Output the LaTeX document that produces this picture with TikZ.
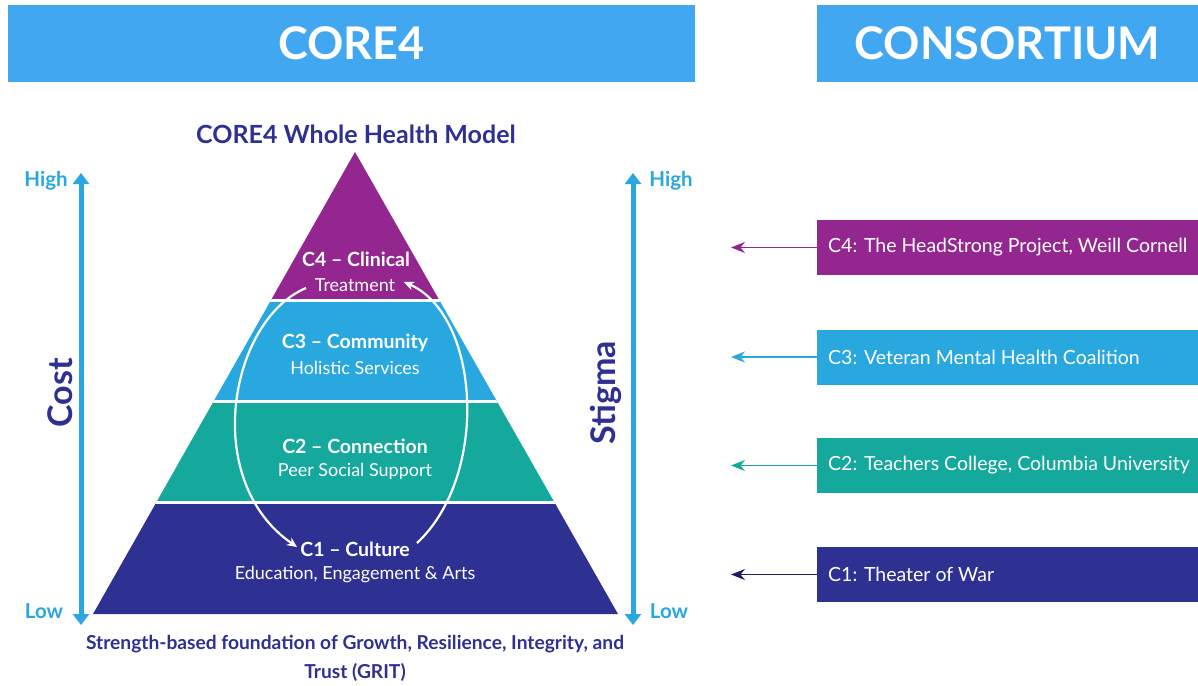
\documentclass[tikz,border=0pt]{standalone}
\usepackage{fontspec}
\setmainfont{Lato}
\usetikzlibrary{arrows.meta}
\definecolor{hdr}{HTML}{42A7F1}
\definecolor{cfour}{HTML}{93278F}
\definecolor{cthree}{HTML}{29A8E0}
\definecolor{ctwo}{HTML}{15A89C}
\definecolor{cone}{HTML}{2E3192}
\definecolor{navy}{HTML}{2E3192}
\definecolor{axisblue}{HTML}{2AA7E0}
\definecolor{conearrow}{HTML}{1F1F66}
\tikzset{
  header/.style={fill=hdr, inner sep=0pt, minimum height=77pt, text=white, font=\bfseries\fontsize{45}{45}\selectfont},
  layertitle/.style={text=white, inner sep=0pt, font=\bfseries\fontsize{19.5}{19.5}\selectfont},
  layersub/.style={text=white, inner sep=0pt, font=\fontsize{18}{18}\selectfont},
  cyc/.style={white, line width=2.2pt, -{Stealth[length=10pt,width=9pt]}},
  axisarrow/.style={axisblue, line width=5pt, {Triangle[length=11pt,width=16pt]}-{Triangle[length=11pt,width=16pt]}},
  hilo/.style={text=axisblue, inner sep=0pt, font=\bfseries\fontsize{20.5}{20.5}\selectfont},
  axislabel/.style={text=navy, inner sep=0pt, rotate=90, font=\bfseries\fontsize{34}{34}\selectfont},
  cbox/.style={anchor=west, minimum height=55pt, inner xsep=11pt, inner ysep=0pt, text=white, font=\fontsize{19.5}{19.5}\selectfont},
  cconn/.style={line width=1.6pt, -{Stealth[length=14pt,width=11pt]}},
  bottomtext/.style={text=navy, inner sep=0pt, font=\bfseries\fontsize{19.2}{19.2}\selectfont}
}
\begin{document}
\begin{tikzpicture}[x=1pt,y=-1pt]
\useasboundingbox (0,0) rectangle (1198,685);
\fill[white] (0,0) rectangle (1198,685);

% headers
\node[header, minimum width=687pt] (core) at (351.5,43.5) {CORE4};
\node[header, minimum width=381pt] (cons) at (1007.5,43.5) {CONSORTIUM};

% title
\node[text=navy, inner sep=0pt, font=\bfseries\fontsize{25}{25}\selectfont] (title) at (356,134) {CORE4 Whole Health Model};

% pyramid
\begin{scope}
\clip (355,152) -- (618,614) -- (93,614) -- cycle;
\fill[cfour] (0,140) rectangle (700,300);
\fill[cthree] (0,300) rectangle (700,401);
\fill[ctwo] (0,401) rectangle (700,502);
\fill[cone] (0,502) rectangle (700,620);
\draw[white, line width=3pt] (0,300) -- (700,300) (0,401) -- (700,401) (0,502) -- (700,502);
\end{scope}

\node[layertitle] (c4t) at (356,259) {C4 – Clinical};
\node[layersub] (c4s) at (355,285) {Treatment};
\node[layertitle] (c3t) at (355,343) {C3 – Community};
\node[layersub] (c3s) at (355,368) {Holistic Services};
\node[layertitle] (c2t) at (355,446) {C2 – Connection};
\node[layersub] (c2s) at (355,471) {Peer Social Support};
\node[layertitle] (c1t) at (355,549) {C1 – Culture};
\node[layersub] (c1s) at (355,575) {Education, Engagement \& Arts};

% cycle arrows
\coordinate (ls) at (306,288);
\coordinate (le) at (297,547);
\coordinate (rs) at (417,543);
\coordinate (re) at (404,282);
\draw[cyc] (ls) .. controls (230,320) and (200,480) .. (le);
\draw[cyc] (rs) .. controls (490,475) and (480,315) .. (re);

% axes
\coordinate (costtop) at (81,173);
\coordinate (costbot) at (81,625);
\coordinate (stigtop) at (633,173);
\coordinate (stigbot) at (633,625);
\draw[axisarrow] (costbot) -- (costtop);
\draw[axisarrow] (stigbot) -- (stigtop);
\node[hilo] (costhigh) at (46,181) {High};
\node[hilo] (costlow) at (44,611) {Low};
\node[hilo] (stighigh) at (671,181) {High};
\node[hilo] (stiglow) at (669,611) {Low};
\node[axislabel] (cost) at (60,393) {Cost};
\node[axislabel] (stigma) at (606,393) {Stigma};

% bottom text
\node[bottomtext] (found1) at (355,644) {Strength-based foundation of Growth, Resilience, Integrity, and};
\node[bottomtext] (found2) at (355,672) {Trust (GRIT)};

% consortium boxes
\node[cbox, fill=cfour] (b4) at (817,247.5) {\makebox[359pt][l]{C4: The HeadStrong Project, Weill Cornell}};
\node[cbox, fill=cthree] (b3) at (817,357) {\makebox[359pt][l]{C3: Veteran Mental Health Coalition}};
\node[cbox, fill=ctwo] (b2) at (817,465.5) {\makebox[359pt][l]{C2: Teachers College, Columbia University}};
\node[cbox, fill=cone] (b1) at (817,574.5) {\makebox[359pt][l]{C1: Theater of War}};

\coordinate (a4) at (731,247.5);
\coordinate (a3) at (731,357);
\coordinate (a2) at (731,465.5);
\coordinate (a1) at (731,574.5);
\draw[cconn, cfour] (b4.west) -- (a4);
\draw[cconn, cthree] (b3.west) -- (a3);
\draw[cconn, ctwo] (b2.west) -- (a2);
\draw[cconn, conearrow] (b1.west) -- (a1);
\end{tikzpicture}
\end{document}
